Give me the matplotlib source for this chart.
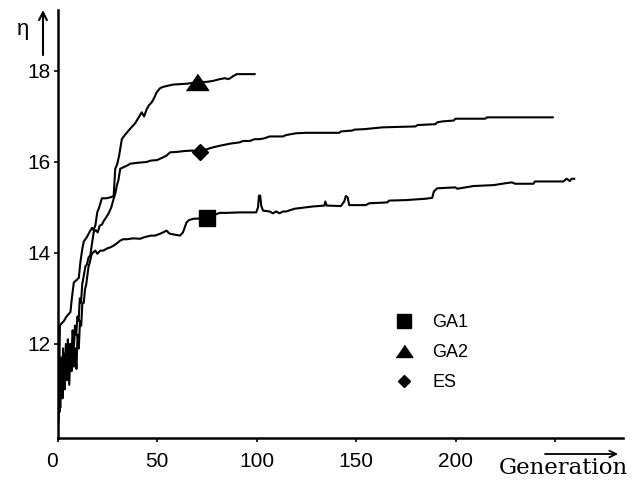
import matplotlib
matplotlib.use('Agg')
import matplotlib.pyplot as plt
from matplotlib.lines import Line2D

plt.rcParams['font.family'] = ['Liberation Sans', 'DejaVu Sans']

# GA1 (square)
ga1_gen = [0, 0.4, 0.9, 1.4, 1.9, 2.5, 3.0, 3.6, 4.2, 4.8, 5.3, 5.9, 6.5, 7.1, 7.7, 8.3, 8.9, 9.5,
           10.1, 10.7, 11.3, 11.9, 12.5, 13.2, 13.8, 14.4, 15.0, 15.6, 16.3, 17.0, 17.6, 18.2, 19.0,
           20.0, 21.5, 23, 25, 26.5, 28.2, 29.5, 31.5, 33, 35, 38, 41.5, 44, 47, 49, 51.5, 53, 54.8,
           55.8, 56.5, 59, 61.5, 63, 64.8, 66, 68.2, 74.8, 78, 81.5, 85, 91.5, 95.7, 99.8, 100.7,
           101.2, 101.8, 102.3, 103.2, 106.5, 108.2, 109.8, 111.5, 113.2, 114.8, 119, 128.2, 134,
           134.5, 135.2, 142.3, 144, 144.8, 145.7, 146.5, 148.2, 154.8, 156.5, 165.7, 166.5, 174.8,
           184.8, 188.2, 189, 190.7, 199.8, 200.7, 209, 219, 224.8, 228.2, 229.8, 239, 239.8, 254,
           255.7, 257.3, 258.2, 259.5]
ga1_val = [10.1, 10.3, 11.2, 10.6, 11.7, 10.8, 11.5, 11.0, 12.0, 11.2, 11.8, 11.1, 11.9, 11.4, 12.1,
           11.5, 11.9, 11.45, 12.2, 11.9, 12.5, 12.4, 12.9, 12.9, 13.2, 13.3, 13.5, 13.7, 13.8, 13.95,
           14.0, 14.02, 14.05, 13.98, 14.05, 14.05, 14.1, 14.12, 14.16, 14.2, 14.27, 14.3, 14.3, 14.32,
           14.31, 14.35, 14.38, 14.38, 14.42, 14.45, 14.49, 14.44, 14.42, 14.4, 14.38, 14.45, 14.67,
           14.72, 14.75, 14.76, 14.82, 14.88, 14.88, 14.89, 14.89, 14.89, 15.0, 15.26, 15.26, 15.04,
           14.93, 14.91, 14.87, 14.91, 14.87, 14.91, 14.91, 14.97, 15.02, 15.04, 15.13, 15.04, 15.03,
           15.13, 15.25, 15.22, 15.05, 15.05, 15.05, 15.09, 15.11, 15.15, 15.16, 15.19, 15.21, 15.35,
           15.42, 15.44, 15.41, 15.47, 15.49, 15.53, 15.55, 15.52, 15.52, 15.57, 15.57, 15.63, 15.58,
           15.63, 15.63]

# GA2 (triangle)
ga2_gen = [0, 0.7, 1.2, 2.0, 3.2, 4.5, 5.5, 6.5, 7.2, 8.2, 9.5, 10.7, 11.5, 12.5, 13.2, 14.8, 16.0,
           17.3, 18.0, 19.0, 20.0, 20.7, 22.3, 24.5, 26.5, 28.2, 29.0, 30.0, 31.0, 32.3, 34.0, 36.5,
           39.0, 42.3, 43.5, 44.8, 46.0, 47.3, 48.5, 49.8, 51.5, 53.0, 56.0, 58.0, 61.5, 65.0, 70.0,
           75.0, 78.0, 81.5, 84.0, 86.0, 88.0, 90.0, 94.0, 99.0]
ga2_val = [10.1, 10.5, 12.4, 12.45, 12.5, 12.6, 12.65, 12.7, 13.0, 13.35, 13.4, 13.45, 13.8, 14.1,
           14.25, 14.35, 14.45, 14.55, 14.5, 14.6, 14.9, 14.97, 15.2, 15.2, 15.22, 15.25, 15.85,
           15.95, 16.15, 16.5, 16.6, 16.73, 16.85, 17.09, 17.0, 17.16, 17.25, 17.31, 17.4, 17.53,
           17.62, 17.65, 17.68, 17.7, 17.71, 17.72, 17.75, 17.76, 17.78, 17.82, 17.84, 17.82, 17.88,
           17.93, 17.93, 17.93]

# ES (diamond)
es_gen = [0, 0.5, 1.0, 1.6, 2.2, 2.8, 3.4, 4.0, 4.6, 5.2, 5.8, 6.4, 7.0, 7.6, 8.2, 8.8, 9.4, 10.0,
          10.6, 11.2, 11.8, 12.4, 13.2, 14.0, 14.8, 15.6, 16.5, 17.3, 18.2, 19.2, 20.2, 21.2, 22.3,
          23.2, 24.0, 25.0, 26.0, 27.0, 28.2, 29.0, 29.8, 30.6, 31.5, 33.0, 35.0, 36.5, 40, 44.8, 47,
          50, 53, 54.8, 56.5, 60, 64, 68, 71.5, 75, 78, 82, 86.5, 91.5, 93.2, 96.5, 99, 101.5, 104,
          106.5, 113.2, 114.8, 119.8, 124.8, 141.5, 142.3, 148.2, 149, 154, 163.2, 179.8, 180.7,
          189.8, 190.7, 193.2, 199, 199.8, 214.8, 215.7, 248.7]
es_val = [10.1, 11.0, 10.5, 11.5, 10.9, 11.9, 11.2, 11.8, 11.3, 12.1, 11.6, 12.0, 11.7, 12.3, 11.9,
          12.4, 12.2, 12.6, 12.5, 13.0, 12.9, 13.3, 13.5, 13.7, 13.75, 13.9, 13.95, 14.2, 14.46, 14.5,
          14.45, 14.6, 14.62, 14.7, 14.75, 14.82, 14.9, 15.0, 15.19, 15.3, 15.48, 15.6, 15.85, 15.88,
          15.92, 15.96, 15.98, 16.0, 16.03, 16.04, 16.1, 16.14, 16.21, 16.22, 16.24, 16.25, 16.21,
          16.28, 16.32, 16.36, 16.40, 16.43, 16.46, 16.46, 16.5, 16.5, 16.52, 16.56, 16.56, 16.59,
          16.63, 16.64, 16.64, 16.67, 16.69, 16.71, 16.72, 16.76, 16.78, 16.81, 16.83, 16.87, 16.89,
          16.91, 16.95, 16.95, 16.98, 16.98]

# marker positions on the curves
mark_gen = [75, 70, 71.5]
mark_val = [14.76, 17.75, 16.21]

labels = ['GA1', 'GA2', 'ES']
x_ticks = [0, 50, 100, 150, 200, 250]
x_ticklabels = ['0', '50', '100', '150', '200', '']
y_ticks = [12, 14, 16, 18]

tri = [(-1, -0.72), (1, -0.72), (0, 0.74)]

fig = plt.figure(figsize=(6.41, 4.8), dpi=100)
ax = fig.add_axes([57.5 / 641, 42 / 480, (623 - 57.5) / 641, 428 / 480])

ax.plot(ga1_gen, ga1_val, color='k', lw=1.5)
ax.plot(ga2_gen, ga2_val, color='k', lw=1.5)
ax.plot(es_gen, es_val, color='k', lw=1.5)

ax.plot(mark_gen[0], mark_val[0], marker='s', ms=12, color='k', ls='none')
ax.plot(mark_gen[1], mark_val[1], marker=tri, ms=16, color='k', ls='none')
ax.plot(mark_gen[2], mark_val[2], marker='D', ms=8.5, color='k', ls='none')

ax.set_xlim(0, 284)
ax.set_ylim(9.93, 19.34)
ax.set_xticks(x_ticks)
ax.set_xticklabels(x_ticklabels)
ax.set_yticks(y_ticks)
ax.get_xticklabels()[0].set_horizontalalignment('right')
ax.tick_params(axis='both', length=3, width=1.2, labelsize=15, color='k')
ax.tick_params(axis='x', pad=7)
ax.tick_params(axis='y', pad=2)

for s in ['top', 'right']:
    ax.spines[s].set_visible(False)
for s in ['left', 'bottom']:
    ax.spines[s].set_linewidth(1.8)
    ax.spines[s].set_color('k')

handles = [Line2D([], [], marker='s', ms=10, color='k', ls='none'),
           Line2D([], [], marker=tri, ms=12, color='k', ls='none'),
           Line2D([], [], marker='D', ms=6.6, color='k', ls='none')]
fig.legend(handles, labels, loc='upper left', bbox_to_anchor=(395 / 641, 1 - 314 / 480),
           frameon=False, fontsize=13, handlelength=1.0, handletextpad=1.05,
           labelspacing=0.72, borderpad=0, borderaxespad=0)

# axis labels with arrows
fig.text(23 / 641, 1 - 29 / 480, 'η', fontsize=16, ha='center', va='center')
fig.text(563 / 641, 6 / 480, 'Generation', family='DejaVu Serif', fontsize=16.5,
         ha='center', va='baseline')
ax.annotate('', xy=(43, 470), xytext=(43, 425), xycoords='figure pixels',
            arrowprops=dict(arrowstyle='->', lw=1.5, color='k', shrinkA=0, shrinkB=0,
                            mutation_scale=14))
ax.annotate('', xy=(618, 26), xytext=(545, 26), xycoords='figure pixels',
            arrowprops=dict(arrowstyle='->', lw=1.3, color='k', shrinkA=0, shrinkB=0,
                            mutation_scale=12))

fig.savefig('out.png', dpi=100)
